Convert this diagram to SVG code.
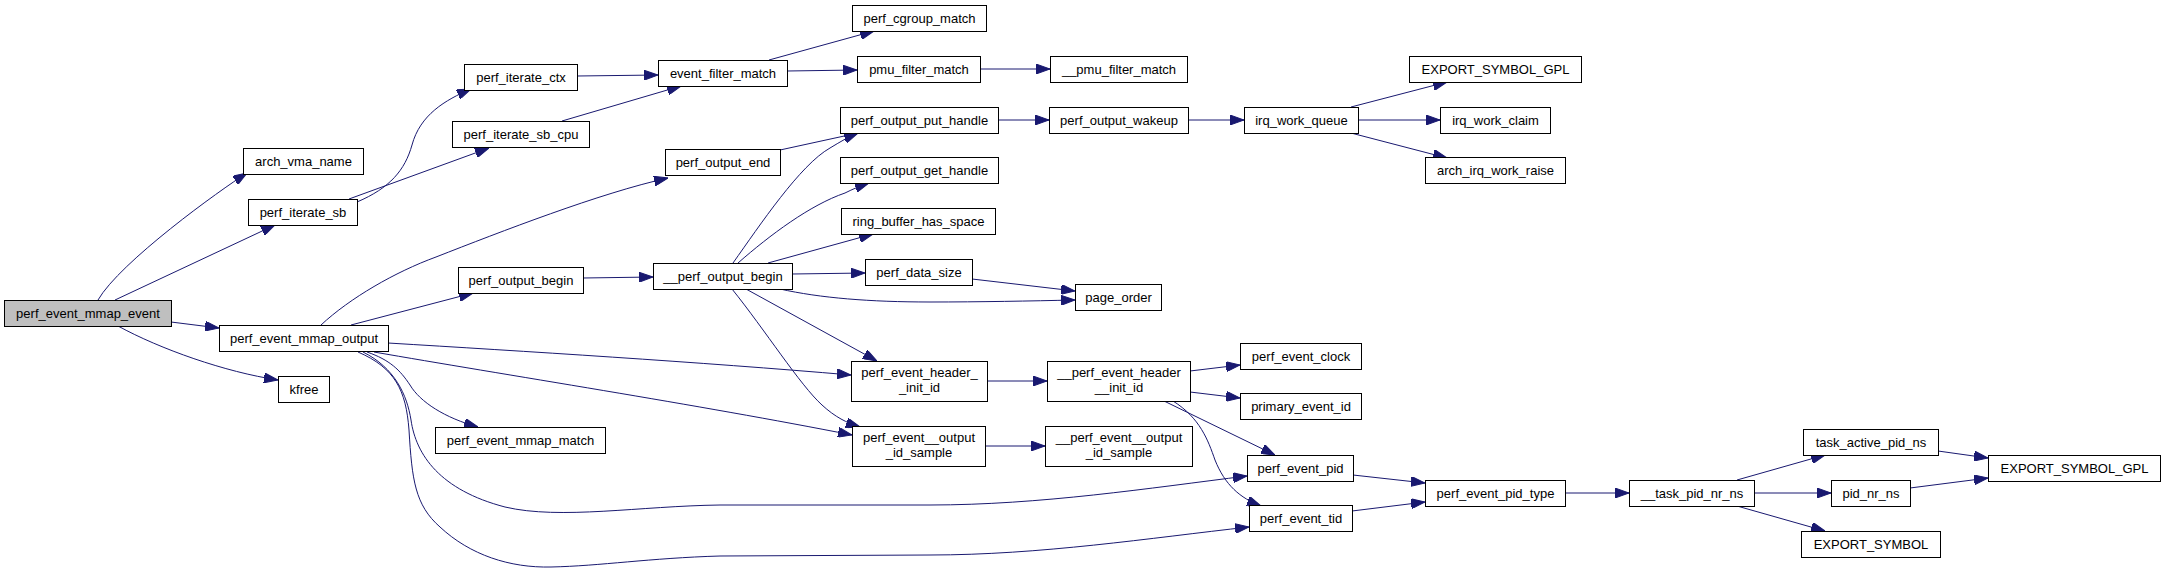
<svg xmlns="http://www.w3.org/2000/svg" width="2165" height="574" viewBox="0 0 2165 574">
<defs>
<style>
.n rect{fill:#ffffff;stroke:#000000;stroke-width:1}
.n.root rect{fill:#bfbfbf}
.n text{font-family:"Liberation Sans",Arial,Helvetica,sans-serif;font-size:13px;fill:#000000;text-anchor:middle}
.e path{fill:none;stroke:#191970;stroke-width:1;marker-end:url(#a)}
</style>
<marker id="a" markerWidth="14" markerHeight="10" refX="14" refY="5" orient="auto" markerUnits="userSpaceOnUse">
<path d="M0,0 L14,5 L0,10 z" fill="#191970" stroke="#191970" stroke-width="1"/>
</marker>
</defs>
<rect width="2165" height="574" fill="#ffffff"/>
<g id="edges" class="e">
<path d="M98,300 C120,262 220,190 247,173"/>
<path d="M115,300 L275,225"/>
<path d="M171,322 L219,328"/>
<path d="M118,326 C160,349 225,372 278,380"/>
<path d="M357,202 C390,188 405,170 412,145 C420,115 445,100 471,89"/>
<path d="M349,199 L489,148"/>
<path d="M577,76 L658,75"/>
<path d="M562,121 L681,86"/>
<path d="M769,60 L874,31"/>
<path d="M787,71 L857,70"/>
<path d="M980,69 L1050,69"/>
<path d="M321,325 C350,298 395,272 436,257 C500,232 600,193 668,178"/>
<path d="M351,325 L473,293"/>
<path d="M388,343 C520,351 700,362 851,375"/>
<path d="M374,352 C500,374 700,405 852,435"/>
<path d="M367,352 C390,360 400,370 410,385 C420,402 445,418 478,427"/>
<path d="M363,352 C395,368 407,395 411,420 C416,455 440,490 505,507 C560,520 640,506 720,505 L930,505 C1040,505 1150,488 1247,476"/>
<path d="M358,352 C395,368 406,390 409,430 C412,480 415,505 440,527 C470,555 510,568 551,567 C600,566 650,558 720,556 L930,555 C1040,555 1150,538 1249,527"/>
<path d="M780,150 L858,133"/>
<path d="M583,278 L653,277"/>
<path d="M733,263 C760,225 800,165 830,148 C840,142 848,137 858,133"/>
<path d="M738,263 C770,235 810,205 845,193 C853,189 860,186 869,183"/>
<path d="M768,263 L873,234"/>
<path d="M792,274 L865,273"/>
<path d="M780,289 C820,298 870,302 930,302 C980,302 1030,301 1075,300"/>
<path d="M746,289 L877,361"/>
<path d="M732,289 C765,330 800,385 822,405 C835,417 847,423 860,427"/>
<path d="M972,279 L1075,291"/>
<path d="M998,120 L1049,120"/>
<path d="M1188,120 L1244,120"/>
<path d="M1351,107 L1447,82"/>
<path d="M1358,120 L1440,120"/>
<path d="M1351,133 L1447,158"/>
<path d="M987,381 L1047,381"/>
<path d="M1190,371 L1240,365"/>
<path d="M1190,392 L1240,398"/>
<path d="M1164,401 L1275,455"/>
<path d="M1173,401 C1200,418 1208,440 1215,460 C1225,485 1240,498 1261,506"/>
<path d="M985,446 L1045,446"/>
<path d="M1353,475 L1425,483"/>
<path d="M1352,511 L1425,502"/>
<path d="M1565,493 L1629,493"/>
<path d="M1737,480 L1825,455"/>
<path d="M1754,493 L1831,493"/>
<path d="M1737,506 L1825,531"/>
<path d="M1938,451 L1988,458"/>
<path d="M1910,488 L1988,478"/>
</g>
<g id="perf_event_mmap_event" class="n root"><rect x="4.5" y="300.5" width="167" height="26"/><text x="88" y="318">perf_event_mmap_event</text></g>
<g id="arch_vma_name" class="n"><rect x="243.5" y="148.5" width="120" height="26"/><text x="303.5" y="166">arch_vma_name</text></g>
<g id="perf_iterate_sb" class="n"><rect x="248.5" y="199.5" width="109" height="26"/><text x="303" y="217">perf_iterate_sb</text></g>
<g id="perf_event_mmap_output" class="n"><rect x="219.5" y="325.5" width="169" height="26"/><text x="304" y="343">perf_event_mmap_output</text></g>
<g id="kfree" class="n"><rect x="278.5" y="376.5" width="51" height="26"/><text x="304" y="394">kfree</text></g>
<g id="perf_iterate_ctx" class="n"><rect x="464.5" y="64.5" width="113" height="26"/><text x="521" y="82">perf_iterate_ctx</text></g>
<g id="perf_iterate_sb_cpu" class="n"><rect x="452.5" y="121.5" width="137" height="26"/><text x="521" y="139">perf_iterate_sb_cpu</text></g>
<g id="perf_output_end" class="n"><rect x="665.5" y="149.5" width="115" height="26"/><text x="723" y="167">perf_output_end</text></g>
<g id="perf_output_begin" class="n"><rect x="458.5" y="267.5" width="125" height="26"/><text x="521" y="285">perf_output_begin</text></g>
<g id="perf_event_mmap_match" class="n"><rect x="435.5" y="427.5" width="170" height="26"/><text x="520.5" y="445">perf_event_mmap_match</text></g>
<g id="event_filter_match" class="n"><rect x="658.5" y="60.5" width="129" height="26"/><text x="723" y="78">event_filter_match</text></g>
<g id="__perf_output_begin" class="n"><rect x="653.5" y="263.5" width="139" height="26"/><text x="723" y="281">__perf_output_begin</text></g>
<g id="perf_cgroup_match" class="n"><rect x="852.5" y="5.5" width="134" height="26"/><text x="919.5" y="23">perf_cgroup_match</text></g>
<g id="pmu_filter_match" class="n"><rect x="857.5" y="56.5" width="123" height="26"/><text x="919" y="74">pmu_filter_match</text></g>
<g id="perf_output_put_handle" class="n"><rect x="840.5" y="107.5" width="158" height="26"/><text x="919.5" y="125">perf_output_put_handle</text></g>
<g id="perf_output_get_handle" class="n"><rect x="840.5" y="157.5" width="158" height="26"/><text x="919.5" y="175">perf_output_get_handle</text></g>
<g id="ring_buffer_has_space" class="n"><rect x="841.5" y="208.5" width="154" height="26"/><text x="918.5" y="226">ring_buffer_has_space</text></g>
<g id="perf_data_size" class="n"><rect x="865.5" y="259.5" width="107" height="26"/><text x="919" y="277">perf_data_size</text></g>
<g id="perf_event_header__init_id" class="n"><rect x="851.5" y="361.5" width="136" height="40"/><text x="919.5" y="377">perf_event_header_</text><text x="919.5" y="392">_init_id</text></g>
<g id="perf_event__output_id_sample" class="n"><rect x="852.5" y="426.5" width="133" height="40"/><text x="919" y="442">perf_event__output</text><text x="919" y="457">_id_sample</text></g>
<g id="__pmu_filter_match" class="n"><rect x="1050.5" y="56.5" width="137" height="26"/><text x="1119" y="74">__pmu_filter_match</text></g>
<g id="perf_output_wakeup" class="n"><rect x="1049.5" y="107.5" width="139" height="26"/><text x="1119" y="125">perf_output_wakeup</text></g>
<g id="page_order" class="n"><rect x="1075.5" y="284.5" width="86" height="26"/><text x="1118.5" y="302">page_order</text></g>
<g id="__perf_event_header__init_id" class="n"><rect x="1047.5" y="361.5" width="143" height="40"/><text x="1119" y="377">__perf_event_header</text><text x="1119" y="392">__init_id</text></g>
<g id="__perf_event__output_id_sample" class="n"><rect x="1045.5" y="426.5" width="147" height="40"/><text x="1119" y="442">__perf_event__output</text><text x="1119" y="457">_id_sample</text></g>
<g id="irq_work_queue" class="n"><rect x="1244.5" y="107.5" width="114" height="26"/><text x="1301.5" y="125">irq_work_queue</text></g>
<g id="perf_event_clock" class="n"><rect x="1240.5" y="343.5" width="121" height="26"/><text x="1301" y="361">perf_event_clock</text></g>
<g id="primary_event_id" class="n"><rect x="1240.5" y="393.5" width="121" height="26"/><text x="1301" y="411">primary_event_id</text></g>
<g id="perf_event_pid" class="n"><rect x="1247.5" y="455.5" width="106" height="26"/><text x="1300.5" y="473">perf_event_pid</text></g>
<g id="perf_event_tid" class="n"><rect x="1249.5" y="505.5" width="103" height="26"/><text x="1301" y="523">perf_event_tid</text></g>
<g id="EXPORT_SYMBOL_GPL_1" class="n"><rect x="1409.5" y="56.5" width="172" height="26"/><text x="1495.5" y="74">EXPORT_SYMBOL_GPL</text></g>
<g id="irq_work_claim" class="n"><rect x="1440.5" y="107.5" width="110" height="26"/><text x="1495.5" y="125">irq_work_claim</text></g>
<g id="arch_irq_work_raise" class="n"><rect x="1425.5" y="157.5" width="140" height="26"/><text x="1495.5" y="175">arch_irq_work_raise</text></g>
<g id="perf_event_pid_type" class="n"><rect x="1425.5" y="480.5" width="140" height="26"/><text x="1495.5" y="498">perf_event_pid_type</text></g>
<g id="__task_pid_nr_ns" class="n"><rect x="1629.5" y="480.5" width="125" height="26"/><text x="1692" y="498">__task_pid_nr_ns</text></g>
<g id="task_active_pid_ns" class="n"><rect x="1803.5" y="429.5" width="135" height="26"/><text x="1871" y="447">task_active_pid_ns</text></g>
<g id="pid_nr_ns" class="n"><rect x="1831.5" y="480.5" width="79" height="26"/><text x="1871" y="498">pid_nr_ns</text></g>
<g id="EXPORT_SYMBOL" class="n"><rect x="1801.5" y="531.5" width="139" height="26"/><text x="1871" y="549">EXPORT_SYMBOL</text></g>
<g id="EXPORT_SYMBOL_GPL_2" class="n"><rect x="1988.5" y="455.5" width="172" height="26"/><text x="2074.5" y="473">EXPORT_SYMBOL_GPL</text></g>
</svg>
